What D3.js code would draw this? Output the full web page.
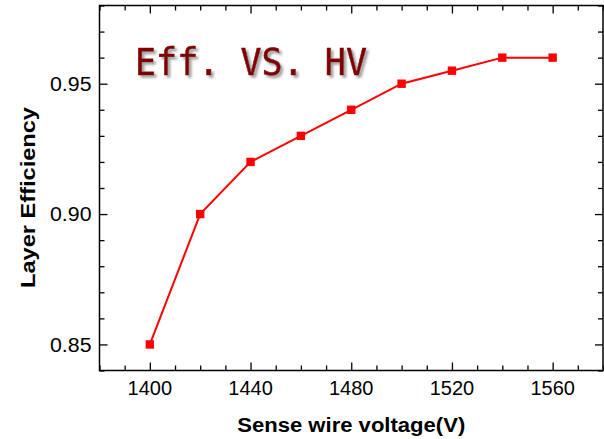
<!DOCTYPE html>
<html>
<head>
<meta charset="utf-8">
<script src="https://cdn.jsdelivr.net/npm/d3@7"></script>
<style>
  html, body { margin: 0; padding: 0; background: #fff; }
  svg { display: block; }
</style>
</head>
<body>
<svg id="chart" width="604" height="439"></svg>
<script>
// Sense wire high voltage (V) and the measured layer efficiency
const voltages = [1400, 1420, 1440, 1460, 1480, 1500, 1520, 1540, 1560];
const efficiency = [0.85, 0.90, 0.92, 0.93, 0.94, 0.95, 0.955, 0.96, 0.96];
const xTickValues = [1400, 1440, 1480, 1520, 1560];
const yTickValues = [0.85, 0.90, 0.95];

const svg = d3.select("#chart");
const margin = { left: 99.5, top: 5.5, right: 603, bottom: 370.5 };

const x = d3.scaleLinear().domain([1380, 1580]).range([margin.left, margin.right]);
const y = d3.scaleLinear().domain([0.84, 0.98]).range([margin.bottom, margin.top]);

const font = "'Liberation Sans', Arial, sans-serif";
const minorX = d3.range(1380, 1581, 10).filter(v => !xTickValues.includes(v));
const minorY = d3.range(0, 15).map(i => +(0.84 + i * 0.01).toFixed(2)).filter(v => !yTickValues.includes(v));

// Frame
svg.append("rect")
  .attr("x", margin.left).attr("y", margin.top)
  .attr("width", margin.right - margin.left).attr("height", margin.bottom - margin.top)
  .attr("fill", "none").attr("stroke", "#000").attr("stroke-width", 1.5);

// Inward ticks on all four sides
function ticks(axisFn, scale, values, size, transform) {
  const g = svg.append("g").attr("transform", transform)
    .call(axisFn(scale).tickValues(values).tickSize(size).tickFormat(""));
  g.select(".domain").remove();
  g.selectAll(".tick line").attr("stroke", "#000").attr("stroke-width", 1.3);
  return g;
}
ticks(d3.axisTop, x, xTickValues, 8, `translate(0,${margin.bottom})`);
ticks(d3.axisTop, x, minorX, 5, `translate(0,${margin.bottom})`);
ticks(d3.axisBottom, x, xTickValues, 8, `translate(0,${margin.top})`);
ticks(d3.axisBottom, x, minorX, 5, `translate(0,${margin.top})`);
ticks(d3.axisRight, y, yTickValues, 8, `translate(${margin.left},0)`);
ticks(d3.axisRight, y, minorY, 5, `translate(${margin.left},0)`);
ticks(d3.axisLeft, y, yTickValues, 8, `translate(${margin.right},0)`);
ticks(d3.axisLeft, y, minorY, 5, `translate(${margin.right},0)`);

// Tick labels
svg.append("g").selectAll("text").data(xTickValues).join("text")
  .attr("x", d => x(d)).attr("y", 394.5)
  .attr("text-anchor", "middle")
  .attr("font-family", font).attr("font-size", 20)
  .text(d => d);
svg.append("g").selectAll("text").data(yTickValues).join("text")
  .attr("x", 91.5).attr("y", d => y(d) + 7.2)
  .attr("text-anchor", "end")
  .attr("font-family", font).attr("font-size", 20)
  .attr("textLength", 41.5).attr("lengthAdjust", "spacingAndGlyphs")
  .text(d => d.toFixed(2));

// Axis titles
svg.append("text")
  .attr("x", (margin.left + margin.right) / 2).attr("y", 431.5)
  .attr("text-anchor", "middle")
  .attr("font-family", font).attr("font-size", 20).attr("font-weight", "bold")
  .attr("textLength", 228).attr("lengthAdjust", "spacingAndGlyphs")
  .text("Sense wire voltage(V)");
svg.append("text")
  .attr("transform", `translate(34.5,197.5) rotate(-90)`)
  .attr("text-anchor", "middle")
  .attr("font-family", font).attr("font-size", 20).attr("font-weight", "bold")
  .attr("textLength", 181).attr("lengthAdjust", "spacingAndGlyphs")
  .text("Layer Efficiency");

// Data line and square markers
const pts = voltages.map((v, i) => [v, efficiency[i]]);
svg.append("path")
  .datum(pts)
  .attr("fill", "none").attr("stroke", "#ff0000").attr("stroke-width", 2)
  .attr("d", d3.line().x(d => x(d[0])).y(d => y(d[1])));
svg.append("g").selectAll("rect").data(pts).join("rect")
  .attr("x", d => x(d[0]) - 4.2).attr("y", d => y(d[1]) - 4.2)
  .attr("width", 8.4).attr("height", 8.4)
  .attr("fill", "#ff0000");

// Title with a soft drop shadow
const defs = svg.append("defs");
defs.append("filter").attr("id", "shadow")
  .attr("x", "-10%").attr("y", "-20%").attr("width", "130%").attr("height", "150%")
  .append("feDropShadow")
  .attr("dx", 2.5).attr("dy", 2.5).attr("stdDeviation", 1)
  .attr("flood-color", "#888").attr("flood-opacity", 0.8);
svg.append("text")
  .attr("x", 135).attr("y", 75)
  .attr("font-family", "'DejaVu Sans Mono', monospace").attr("font-size", 37)
  .attr("textLength", 232).attr("lengthAdjust", "spacingAndGlyphs")
  .attr("fill", "#800000").attr("stroke", "#800000").attr("stroke-width", 0.6)
  .attr("filter", "url(#shadow)")
  .text("Eff. VS. HV");
</script>
</body>
</html>
